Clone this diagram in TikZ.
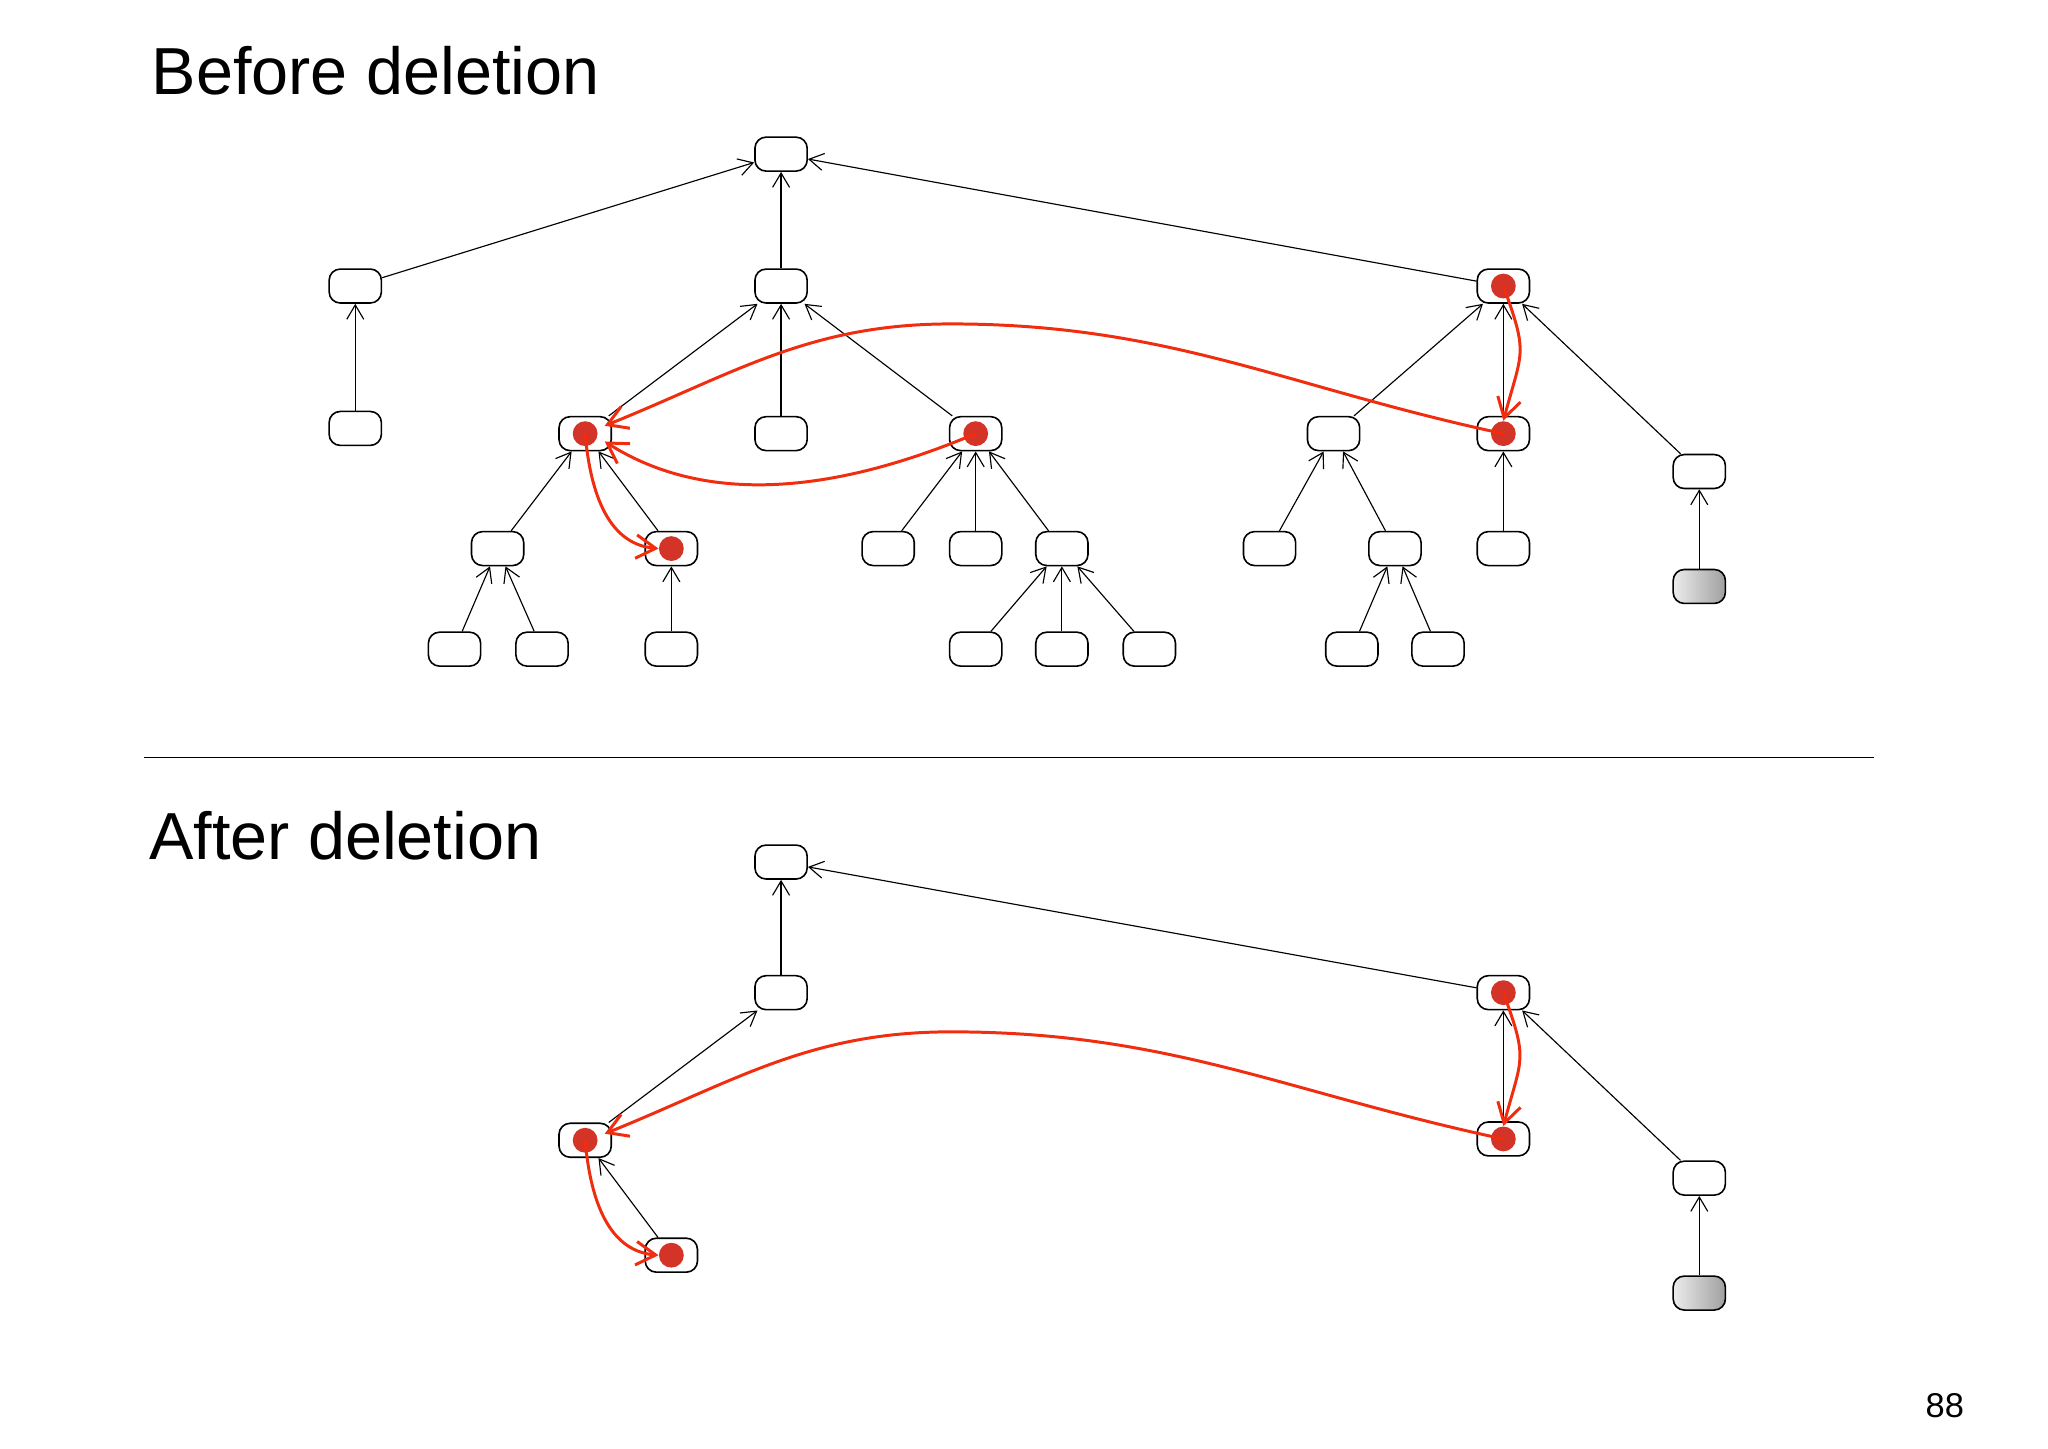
\documentclass[tikz,border=0pt]{standalone}
\usepackage{fontspec}
\setmainfont{Liberation Sans}
\usetikzlibrary{arrows.meta}
\definecolor{dotred}{RGB}{212,52,40}
\definecolor{arrred}{RGB}{240,45,15}
\begin{document}
\begin{tikzpicture}[x=0.02cm,y=-0.02cm,
  box/.style={draw,line width=0.7pt,rounded corners=0.17cm,minimum width=0.8cm,minimum height=0.52cm,inner sep=0pt,fill=white},
  gbox/.style={box,left color=gray!15,right color=gray!75},
  arr/.style={-{Straight Barb[length=2.2mm,width=2.6mm]},line width=0.5pt},
  rarr/.style={-{Straight Barb[length=3mm,width=3.6mm]},line width=1.3pt,color=arrred},
  rline/.style={line width=1.3pt,color=arrred},
  dot/.style={circle,fill=dotred,inner sep=0pt,minimum size=0.38cm}]
\useasboundingbox (0,0) rectangle (1568,1109);
\node[anchor=base west,font=\fontsize{29}{34}\selectfont] (t1) at (110,72) {Before deletion};
\node[anchor=base west,font=\fontsize{29}{34}\selectfont] (t2) at (108,658) {After deletion};
\coordinate (l1) at (110,580); \coordinate (l2) at (1435,580);
\draw[line width=0.6pt] (l1) -- (l2);
\node[font=\fontsize{15}{18}\selectfont] (pg) at (1489,1076) {88};
% top tree
\node[box] (r) at (598,118) {};
\node[box] (A) at (272,219) {};
\node[box] (B) at (598,219) {};
\node[box] (C) at (1151,219) {};
\node[box] (A1) at (272,328) {};
\node[box] (B1) at (448,332) {};
\node[box] (B2) at (598,332) {};
\node[box] (B3) at (747,332) {};
\node[box] (C1) at (1021,332) {};
\node[box] (C2) at (1151,332) {};
\node[box] (C3) at (1301,361) {};
\node[box] (B1a) at (381,420) {};
\node[box] (B1b) at (514,420) {};
\node[box] (B3a) at (680,420) {};
\node[box] (B3b) at (747,420) {};
\node[box] (B3c) at (813,420) {};
\node[box] (C1a) at (972,420) {};
\node[box] (C1b) at (1068,420) {};
\node[box] (C2a) at (1151,420) {};
\node[gbox] (C3a) at (1301,449) {};
\node[box] (x1) at (348,497) {};
\node[box] (x2) at (415,497) {};
\node[box] (x3) at (514,497) {};
\node[box] (x4) at (747,497) {};
\node[box] (x5) at (813,497) {};
\node[box] (x6) at (880,497) {};
\node[box] (x7) at (1035,497) {};
\node[box] (x8) at (1101,497) {};
\foreach \c/\p in {A/r,B/r,C/r,A1/A,B1/B,B2/B,B3/B,C1/C,C2/C,C3/C,B1a/B1,B1b/B1,B3a/B3,B3b/B3,B3c/B3,C1a/C1,C1b/C1,C2a/C2,C3a/C3,x1/B1a,x2/B1a,x3/B1b,x4/B3c,x5/B3c,x6/B3c,x7/C1b,x8/C1b}
  \draw[arr] (\c) -- (\p);
\node[dot] (dC) at (C) {};
\node[dot] (dC2) at (C2) {};
\node[dot] (dB1) at (B1) {};
\node[dot] (dB3) at (B3) {};
\node[dot] (dB1b) at (B1b) {};
\coordinate (pk1) at (728,248);
\coordinate (e1) at (463,326);
\coordinate (e2) at (463,338);
\draw[rarr] (dC.center) to[out=-70,in=75,looseness=1.4] (dC2.north);
\draw[rline] (dC2.center) to[out=168,in=0] (pk1);
\draw[rarr] (pk1) to[out=180,in=22] (e1);
\draw[rarr] (dB3.center) .. controls (680,360) and (560,400) .. (e2);
\draw[rarr] (dB1.center) to[out=-85,in=175] (dB1b.west);
% bottom tree
\node[box] (R) at (598,660) {};
\node[box] (Bb) at (598,760) {};
\node[box] (Cb) at (1151,760) {};
\node[box] (B1n) at (448,873) {};
\node[box] (B1bn) at (514,961) {};
\node[box] (C2n) at (1151,872) {};
\node[box] (C3n) at (1301,902) {};
\node[gbox] (C3an) at (1301,990) {};
\foreach \c/\p in {Bb/R,Cb/R,B1n/Bb,B1bn/B1n,C2n/Cb,C3n/Cb,C3an/C3n}
  \draw[arr] (\c) -- (\p);
\node[dot] (eC) at (Cb) {};
\node[dot] (eC2) at (C2n) {};
\node[dot] (eB1) at (B1n) {};
\node[dot] (eB1b) at (B1bn) {};
\coordinate (pk2) at (728,790);
\coordinate (f1) at (463,868);
\draw[rarr] (eC.center) to[out=-70,in=75,looseness=1.4] (eC2.north);
\draw[rline] (eC2.center) to[out=168,in=0] (pk2);
\draw[rarr] (pk2) to[out=180,in=22] (f1);
\draw[rarr] (eB1.center) to[out=-85,in=175] (eB1b.west);
\end{tikzpicture}
\end{document}
